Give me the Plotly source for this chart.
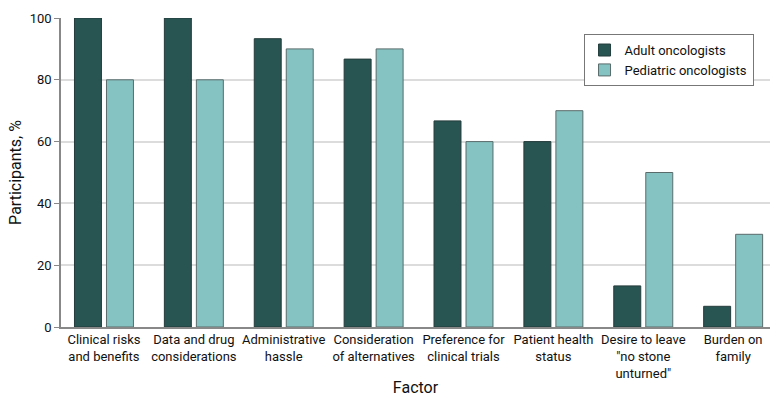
import plotly.graph_objects as go

categories = ["Clinical risks<br>and benefits", "Data and drug<br>considerations", "Administrative<br>hassle",
              "Consideration<br>of alternatives", "Preference for<br>clinical trials", "Patient health<br>status",
              "Desire to leave<br>\"no stone<br>unturned\"", "Burden on<br>family"]
adult = [100, 100, 93.3, 86.7, 66.7, 60, 13.3, 6.7]
pediatric = [80, 80, 90, 90, 60, 70, 50, 30]
yticks = [0, 20, 40, 60, 80, 100]

FONT = "Roboto"
fig = go.Figure()
fig.add_trace(go.Bar(x=list(range(len(categories))), y=adult, name="Adult oncologists",
                     marker=dict(color="#285452", line=dict(color="#233c3b", width=1)),
                     width=0.3, offset=-0.328))
fig.add_trace(go.Bar(x=list(range(len(categories))), y=pediatric, name="Pediatric oncologists",
                     marker=dict(color="#85c3c2", line=dict(color="#5a6b6b", width=1)),
                     width=0.3, offset=0.028))
fig.update_layout(
    width=780, height=411, margin=dict(l=61, r=10, t=18, b=84, autoexpand=False),
    plot_bgcolor="white", paper_bgcolor="white",
    font=dict(family=FONT, size=13, color="#111"),
    barmode="group", showlegend=True,
    legend=dict(x=0.737, y=0.948, xanchor="left", yanchor="top",
                bordercolor="#777", borderwidth=1, bgcolor="white",
                font=dict(size=13), tracegroupgap=6, itemwidth=30),
    xaxis=dict(tickmode="array", tickvals=list(range(len(categories))), ticktext=categories,
               range=[-0.478, 7.41], showline=True, linecolor="#888", linewidth=1.5,
               showgrid=False, ticks="", automargin=False, title=dict(text="Factor", standoff=2)),
    yaxis=dict(range=[0, 100], tickvals=yticks, showline=True, linecolor="#888", linewidth=1.5,
               showgrid=True, gridcolor="#dcdcdc", gridwidth=1.5, ticks="outside", ticklen=5,
               tickcolor="#888", zeroline=False, automargin=False,
               title=dict(text="Participants, %", standoff=4)),
)
fig.write_html("out.html", config={"displayModeBar": False},
               post_script="document.body.style.margin='0';")
